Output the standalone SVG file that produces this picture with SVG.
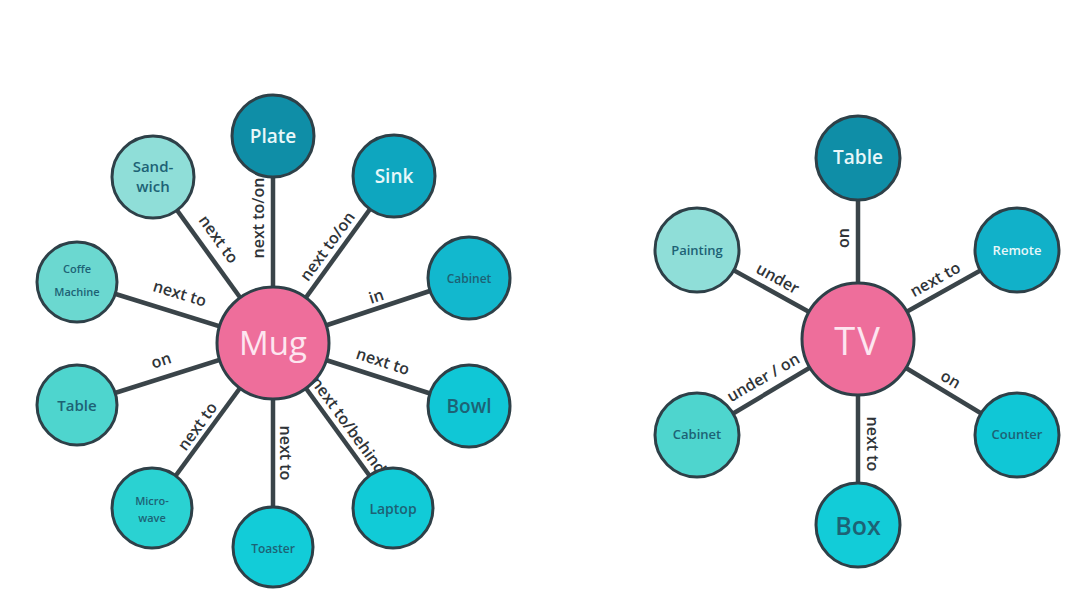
<svg xmlns="http://www.w3.org/2000/svg" width="1080" height="614" viewBox="0 0 1080 614">
<style>
.bg{fill:#ffffff}
.edge{stroke:#3a4449;stroke-width:4.5;fill:none}
.node{stroke:#2e4048;stroke-width:3}
.lbl{font-family:"Open Sans","Noto Sans",sans-serif;font-weight:600;font-size:16px;fill:#2f3438;text-anchor:middle;dominant-baseline:central}
.t{font-family:"Open Sans","Noto Sans",sans-serif;font-weight:600;text-anchor:middle;dominant-baseline:central}
.dk{fill:#1d6275}
.lt{fill:#e8f7f9}
.hub{font-family:"Open Sans","Noto Sans",sans-serif;font-weight:400;fill:#fde6f0;text-anchor:middle;dominant-baseline:central}
</style>
<rect class="bg" x="0" y="0" width="1080" height="614"/>
<g id="connectors">
<line class="edge" x1="273" y1="343" x2="273" y2="136"/>
<line class="edge" x1="273" y1="343" x2="394" y2="176"/>
<line class="edge" x1="273" y1="343" x2="153" y2="177"/>
<line class="edge" x1="273" y1="343" x2="77" y2="282"/>
<line class="edge" x1="273" y1="343" x2="469" y2="278"/>
<line class="edge" x1="273" y1="343" x2="77" y2="405"/>
<line class="edge" x1="273" y1="343" x2="469" y2="406"/>
<line class="edge" x1="273" y1="343" x2="152" y2="508"/>
<line class="edge" x1="273" y1="343" x2="273" y2="547"/>
<line class="edge" x1="273" y1="343" x2="393" y2="508"/>
<line class="edge" x1="858" y1="339" x2="858" y2="158"/>
<line class="edge" x1="858" y1="339" x2="697" y2="250"/>
<line class="edge" x1="858" y1="339" x2="1017" y2="250"/>
<line class="edge" x1="858" y1="339" x2="697" y2="435"/>
<line class="edge" x1="858" y1="339" x2="1017" y2="435"/>
<line class="edge" x1="858" y1="339" x2="858" y2="525"/>
<text class="lbl" transform="translate(258,218) rotate(-90)">next to/on</text>
<text class="lbl" transform="translate(327,246) rotate(-54)">next to/on</text>
<text class="lbl" transform="translate(219,239) rotate(54)">next to</text>
<text class="lbl" transform="translate(180,293) rotate(17)">next to</text>
<text class="lbl" transform="translate(376,296) rotate(-18)">in</text>
<text class="lbl" transform="translate(161,360) rotate(-18)">on</text>
<text class="lbl" transform="translate(383,361) rotate(18)">next to</text>
<text class="lbl" transform="translate(197,426) rotate(-54)">next to</text>
<text class="lbl" transform="translate(286,453) rotate(90)">next to</text>
<text class="lbl" transform="translate(349,425) rotate(54)">next to/behind</text>
<text class="lbl" transform="translate(843,238) rotate(-90)">on</text>
<text class="lbl" transform="translate(778,278) rotate(29)">under</text>
<text class="lbl" transform="translate(935,279) rotate(-29)">next to</text>
<text class="lbl" transform="translate(763,377) rotate(-30)">under / on</text>
<text class="lbl" transform="translate(951,379) rotate(31)">on</text>
<text class="lbl" transform="translate(873,444) rotate(90)">next to</text>
</g>
<g id="mug"><circle class="node" cx="273" cy="343" r="56" fill="#ee6e9b"/><text class="hub" x="273" y="342" font-size="33">Mug</text></g>
<g id="plate"><circle class="node" cx="273" cy="136" r="41" fill="#0f8ea7"/><text class="t lt" x="273" y="136" font-size="19">Plate</text></g>
<g id="sink"><circle class="node" cx="394" cy="176" r="41" fill="#0ea6bf"/><text class="t lt" x="394" y="176" font-size="19">Sink</text></g>
<g id="sandwich"><circle class="node" cx="153" cy="177" r="41" fill="#8fded8"/><text class="t dk" x="153" y="166" font-size="15">Sand-</text><text class="t dk" x="153" y="186" font-size="15">wich</text></g>
<g id="coffee-machine"><circle class="node" cx="77" cy="282" r="40" fill="#6bd8d0"/><text class="t dk" x="77" y="268" font-size="11">Coffe</text><text class="t dk" x="77" y="291" font-size="11">Machine</text></g>
<g id="cabinet-left"><circle class="node" cx="469" cy="278" r="41" fill="#12b8ce"/><text class="t dk" x="469" y="278" font-size="12">Cabinet</text></g>
<g id="table-left"><circle class="node" cx="77" cy="405" r="40" fill="#4ed5ce"/><text class="t dk" x="77" y="405" font-size="15">Table</text></g>
<g id="bowl"><circle class="node" cx="469" cy="406" r="41" fill="#10c7d6"/><text class="t dk" x="469" y="406" font-size="19">Bowl</text></g>
<g id="microwave"><circle class="node" cx="152" cy="508" r="40" fill="#2ad2d2"/><text class="t dk" x="152" y="500" font-size="11">Micro-</text><text class="t dk" x="152" y="517" font-size="11">wave</text></g>
<g id="toaster"><circle class="node" cx="273" cy="547" r="40" fill="#12ccd8"/><text class="t dk" x="273" y="548" font-size="12">Toaster</text></g>
<g id="laptop"><circle class="node" cx="393" cy="508" r="40" fill="#11cbd7"/><text class="t dk" x="393" y="508" font-size="14">Laptop</text></g>
<g id="tv"><circle class="node" cx="858" cy="339" r="56" fill="#ee6e9b"/><text class="hub" x="858" y="340" font-size="38" letter-spacing="2">TV</text></g>
<g id="table-right"><circle class="node" cx="858" cy="158" r="42" fill="#0f8ea7"/><text class="t lt" x="858" y="157" font-size="19">Table</text></g>
<g id="painting"><circle class="node" cx="697" cy="250" r="42" fill="#8fded8"/><text class="t dk" x="697" y="250" font-size="13">Painting</text></g>
<g id="remote"><circle class="node" cx="1017" cy="250" r="42" fill="#11b1c9"/><text class="t lt" x="1017" y="250" font-size="13">Remote</text></g>
<g id="cabinet-right"><circle class="node" cx="697" cy="435" r="42" fill="#4ed5ce"/><text class="t dk" x="697" y="434" font-size="13">Cabinet</text></g>
<g id="counter"><circle class="node" cx="1017" cy="435" r="42" fill="#10c7d6"/><text class="t dk" x="1017" y="434" font-size="13">Counter</text></g>
<g id="box"><circle class="node" cx="858" cy="525" r="42" fill="#12ccd8"/><text class="t dk" x="858" y="525" font-size="25">Box</text></g>
</svg>
